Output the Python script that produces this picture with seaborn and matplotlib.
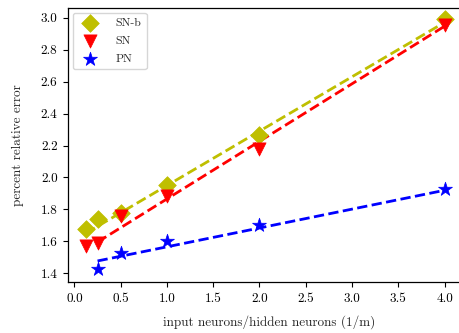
import matplotlib
matplotlib.use("Agg")
import matplotlib.pyplot as plt
import seaborn as sns
import pandas as pd

# Measured data points
x_snb = [0.125, 0.25, 0.5, 1.0, 2.0, 4.0]
y_snb = [1.68, 1.74, 1.78, 1.95, 2.265, 2.99]

x_sn = [0.125, 0.25, 0.5, 1.0, 2.0, 4.0]
y_sn = [1.57, 1.59, 1.76, 1.885, 2.18, 2.955]

x_pn = [0.25, 0.5, 1.0, 2.0, 4.0]
y_pn = [1.425, 1.53, 1.60, 1.70, 1.926]

# Fitted (dashed) lines, read at their end points
fit_snb_x = [0.125, 4.0]
fit_snb_y = [1.652, 2.97]
fit_sn_x = [0.25, 4.0]
fit_sn_y = [1.596, 2.946]
fit_pn_x = [0.25, 4.0]
fit_pn_y = [1.478, 1.92]

labels = ["SN-b", "SN", "PN"]
xticks = [0.0, 0.5, 1.0, 1.5, 2.0, 2.5, 3.0, 3.5, 4.0]
yticks = [1.4, 1.6, 1.8, 2.0, 2.2, 2.4, 2.6, 2.8, 3.0]

sns.set_style("ticks")
plt.rcParams["font.family"] = ["cmr10", "DejaVu Serif"]
plt.rcParams["axes.formatter.use_mathtext"] = True
plt.rcParams["mathtext.fontset"] = "cm"

fig = plt.figure(figsize=(4.59, 3.33), dpi=100)
ax = fig.add_axes([0.148, 0.152, 0.875, 0.824])

series = [
    (x_snb, y_snb, fit_snb_x, fit_snb_y, "y", "D", 9.0 ** 2, labels[0]),
    (x_sn, y_sn, fit_sn_x, fit_sn_y, "r", "v", 9.5 ** 2, labels[1]),
    (x_pn, y_pn, fit_pn_x, fit_pn_y, "b", "*", 10.5 ** 2, labels[2]),
]
for xs, ys, fx, fy, c, m, s, lab in series:
    sns.lineplot(x=fx, y=fy, ax=ax, color=c, linestyle="--", linewidth=2.0,
                 legend=False, zorder=2)
    sns.scatterplot(x=xs, y=ys, ax=ax, color=c, marker=m, s=s, edgecolor=c,
                    linewidth=0.5, label=lab, zorder=3)

ax.set_xlim(-0.07, 4.27)
ax.set_ylim(1.344, 3.06)
ax.set_xticks(xticks)
ax.set_yticks(yticks)
ax.set_xticklabels([f"{v:.1f}" for v in xticks])
ax.set_yticklabels([f"{v:.1f}" for v in yticks])
ax.tick_params(labelsize=9.5, length=3.5, width=0.8, colors="black", pad=4)
for sp in ax.spines.values():
    sp.set_color("black")
    sp.set_linewidth(0.9)
ax.set_xlabel("input neurons/hidden neurons (1/m)", fontsize=9.5, labelpad=7)
ax.set_ylabel("percent relative error", fontsize=9.5, labelpad=12)

leg = ax.legend(loc="upper left", fontsize=8.5, frameon=True,
                borderpad=0.45, labelspacing=0.65, handletextpad=1.2,
                borderaxespad=0.4, handlelength=2.0)
leg.get_frame().set_edgecolor("0.8")

fig.savefig("out.png", dpi=100)
